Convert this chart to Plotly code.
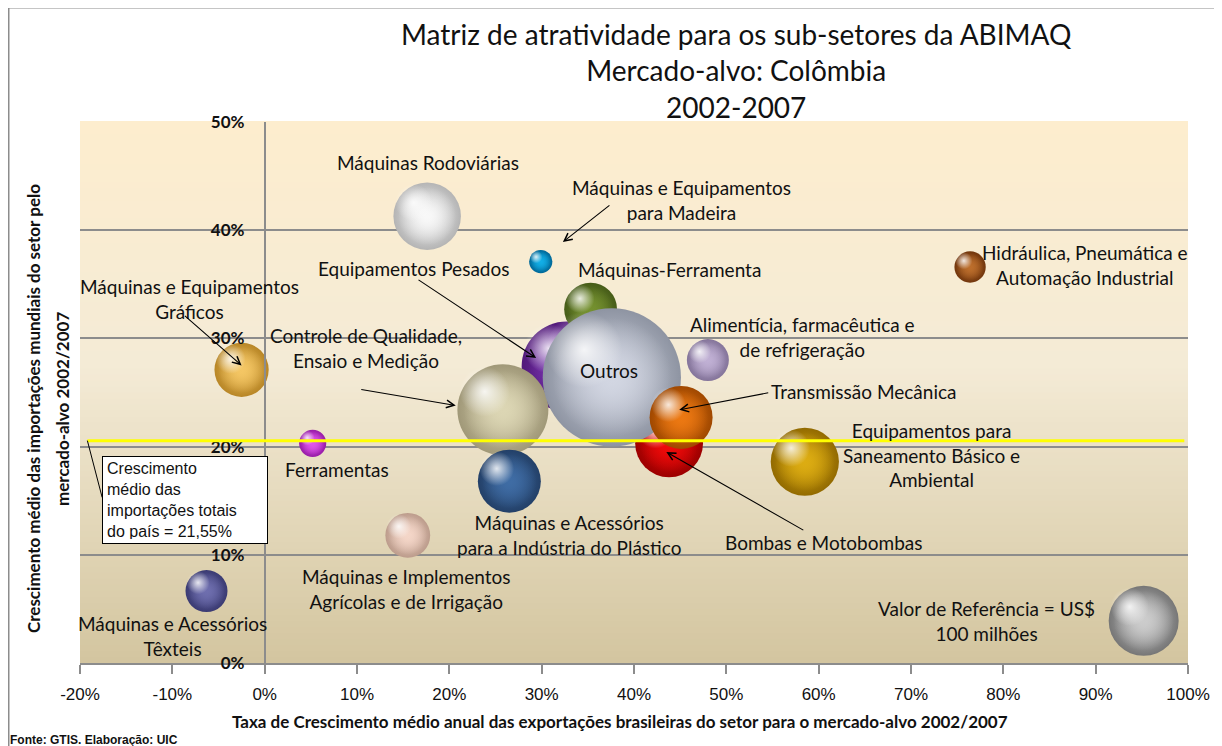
import plotly.graph_objects as go

# a página tem 8px de margem no body: o desenho é deslocado para coincidir
OFF = 8
W, H = 1214, 738
ML, MR, MT, MB = 72, 34, 114, 83
PW, PH = W - ML - MR, H - MT - MB
X_RANGE, Y_RANGE = (-20, 100), (0, 50)

# dados (ordem = ordem de desenho)
setores = [
    "Equipamentos Pesados", "Máquinas-Ferramenta", "Controle de Qualidade, Ensaio e Medição",
    "Máquinas e Acessórios para a Indústria do Plástico", "Bombas e Motobombas", "Outros",
    "Transmissão Mecânica", "Máquinas Rodoviárias", "Máquinas e Equipamentos para Madeira",
    "Alimentícia, farmacêutica e de refrigeração", "Equipamentos para Saneamento Básico e Ambiental",
    "Hidráulica, Pneumática e Automação Industrial", "Ferramentas", "Máquinas e Equipamentos Gráficos",
    "Máquinas e Implementos Agrícolas e de Irrigação", "Máquinas e Acessórios Têxteis",
    "Valor de Referência",
]
cresc_export = [32.7, 35.3, 25.8, 26.5, 43.8, 37.6, 45.1, 17.6, 29.9, 48.0, 58.5, 76.4, 5.2, -2.5, 15.5, -6.3, 95.2]
cresc_import = [27.4, 32.7, 23.4, 16.8, 20.3, 26.4, 22.7, 41.3, 37.1, 28.0, 18.6, 36.6, 20.3, 27.1, 11.8, 6.65, 3.9]
valor_usd_mi = [165, 57, 169, 81, 94, 390, 81, 93, 11, 36, 95, 20, 15, 60, 41, 36, 100]
media_import_total = 20.55

x_ticks = [-20, -10, 0, 10, 20, 30, 40, 50, 60, 70, 80, 90, 100]
y_ticks = [0, 10, 20, 30, 40, 50]

# estilo das esferas: cor principal e borda escura
cor_principal = [
    "#7c36b4", "#74902f", "#dcd6b4", "#3f6ca4", "#f00a0a", "#d2d6e2",
    "#ec7812", "#f8f8f8", "#12aee6", "#c0b0d4", "#dcac12",
    "#bc6e2c", "#e054ec", "#f4c664", "#f4d6c8", "#6e6eae", "#cccccc",
]
cor_borda = [
    "#52197a", "#465c18", "#a09878", "#234068", "#9c0000", "#8e94a2",
    "#a04800", "#b4b4b4", "#006898", "#84749a", "#926a00",
    "#72360c", "#981ca8", "#b88626", "#bc9c8c", "#3a3a72", "#767676",
]

rotulos = [
    ("Máquinas Rodoviárias", 17.7, 46.3),
    ("Máquinas e Equipamentos<br>para Madeira", 45.1, 42.8),
    ("Máquinas-Ferramenta", 43.8, 36.4),
    ("Equipamentos Pesados", 16.1, 36.5),
    ("Máquinas e Equipamentos<br>Gráficos", -8.1, 33.6),
    ("Controle de Qualidade,<br>Ensaio e Medição", 11.0, 29.1),
    ("Outros", 37.3, 27.0),
    ("Alimentícia, farmacêutica e<br>de refrigeração", 58.2, 30.1),
    ("Transmissão Mecânica", 64.9, 25.1),
    ("Equipamentos para<br>Saneamento Básico e<br>Ambiental", 72.2, 19.2),
    ("Hidráulica, Pneumática e<br>Automação Industrial", 88.8, 36.8),
    ("Ferramentas", 7.8, 17.9),
    ("Máquinas e Acessórios<br>para a Indústria do Plástico", 33.0, 11.8),
    ("Bombas e Motobombas", 60.5, 11.1),
    ("Máquinas e Implementos<br>Agrícolas e de Irrigação", 15.4, 6.8),
    ("Máquinas e Acessórios<br>Têxteis", -10.0, 2.5),
    ("Valor de Referência = US$<br>100 milhões", 78.2, 3.9),
]

# setas: (cauda x, cauda y, ponta x, ponta y)
setas = [
    (37.5, 42.4, 32.3, 38.9),
    (16.5, 35.5, 29.4, 28.2),
    (10.3, 25.3, 20.7, 23.8),
    (-8.8, 32.2, -2.5, 27.5),
    (54.7, 25.0, 44.9, 23.4),
    (58.5, 12.2, 43.5, 19.5),
]


def px_x(p):
    return (p - OFF - ML) / PW


def px_y(p):
    return (H - MB - (p - OFF)) / PH


def rgba(hexcor, a):
    h = hexcor.lstrip("#")
    return "rgba(%d,%d,%d,%s)" % (int(h[0:2], 16), int(h[2:4], 16), int(h[4:6], 16), a)


def mix(c1, c2, t):
    return "rgb(%d,%d,%d)" % tuple(round(a + (b - a) * t) for a, b in zip(c1, c2))


def fundo_gradiente(n=90):
    topo, meio, base = (253, 237, 206), (244, 235, 214), (211, 197, 159)
    shapes = []
    for i in range(n):
        y0, y1 = i / n, (i + 1) / n
        yc = (y0 + y1) / 2
        cor = mix(base, meio, yc / 0.55) if yc < 0.55 else mix(meio, topo, (yc - 0.55) / 0.45)
        shapes.append(dict(type="rect", xref="paper", yref="paper", x0=0, x1=1, y0=y0, y1=y1 + 0.002,
                           fillcolor=cor, line_width=0, layer="below"))
    return shapes


def esfera(nome, x, y, valor, cor, borda):
    # diâmetro proporcional à raiz do valor (US$ 100 mi -> 70 px)
    d = (valor / 100) ** 0.5 * 70
    dx = -0.2 * d * (X_RANGE[1] - X_RANGE[0]) / PW
    dy = 0.2 * d * (Y_RANGE[1] - Y_RANGE[0]) / PH
    return go.Scatter(
        x=[x, x, x + dx], y=[y, y, y + dy], mode="markers",
        marker=dict(
            size=[d, d * 0.86, d * 0.55], sizemode="diameter", opacity=1,
            color=[borda, rgba(cor, 0), "rgba(255,255,255,0)"],
            gradient=dict(type="radial", color=[cor, cor, "rgba(255,255,255,0.85)"]),
            line=dict(width=0),
        ),
        name=nome,
        hovertemplate=f"{nome}<br>%{{x:.1f}}% / %{{y:.1f}}%<extra></extra>",
        showlegend=False,
    )


fig = go.Figure()
for i in range(len(setores)):
    fig.add_trace(esfera(setores[i], cresc_export[i], cresc_import[i], valor_usd_mi[i],
                         cor_principal[i], cor_borda[i]))

lbl_font = dict(family="Lato", size=19, color="#111111")
annotations = []
for txt, x, y in rotulos:
    annotations.append(dict(x=x, y=y, xref="x", yref="y", text=txt, showarrow=False,
                            font=lbl_font, align="center"))
for tx, ty, hx, hy in setas:
    annotations.append(dict(x=hx, y=hy, ax=tx, ay=ty, xref="x", yref="y", axref="x", ayref="y",
                            text="", showarrow=True, arrowhead=5, arrowsize=1.4, arrowwidth=1.1,
                            arrowcolor="black", standoff=0, startstandoff=0))

tit_eixo = dict(family="Lato", size=17, color="#111111", weight="bold")
annotations += [
    dict(x=px_x(736), y=px_y(71), xref="paper", yref="paper", showarrow=False,
         xanchor="center", yanchor="middle",
         text="Matriz de atratividade para os sub-setores da ABIMAQ<br>Mercado-alvo: Colômbia<br>2002-2007",
         font=dict(family="Lato", size=28, color="#111111"), align="center"),
    dict(x=px_x(33), y=px_y(409), xref="paper", yref="paper", showarrow=False, textangle=-90,
         xanchor="center", yanchor="middle",
         text="Crescimento médio das importações mundiais do setor pelo", font=tit_eixo),
    dict(x=px_x(62), y=px_y(409), xref="paper", yref="paper", showarrow=False, textangle=-90,
         xanchor="center", yanchor="middle",
         text="mercado-alvo 2002/2007", font=tit_eixo),
    dict(x=px_x(620), y=px_y(721), xref="paper", yref="paper", showarrow=False,
         xanchor="center", yanchor="middle",
         text="Taxa de Crescimento médio anual das exportações brasileiras do setor para o mercado-alvo 2002/2007",
         font=tit_eixo),
    dict(x=px_x(8), y=px_y(740), xref="paper", yref="paper", showarrow=False,
         xanchor="left", yanchor="middle",
         text="Fonte: GTIS. Elaboração: UIC",
         font=dict(family="Liberation Sans", size=12, color="#111111", weight="bold")),
    dict(x=-17.6, y=19.1, xref="x", yref="y", xanchor="left", yanchor="top", showarrow=False,
         text="Crescimento<br>médio das<br>importações totais<br>do país = 21,55%",
         align="left", width=156, height=78, valign="middle",
         font=dict(family="Liberation Sans", size=16, color="#111111"),
         bgcolor="white", bordercolor="black", borderwidth=1, borderpad=4),
]

shapes = fundo_gradiente()
shapes += [
    dict(type="line", xref="x", yref="y", x0=-19.2, x1=99.6, y0=media_import_total, y1=media_import_total,
         line=dict(color="#ffff00", width=3), layer="above"),
    dict(type="line", xref="x", yref="y", x0=-19.2, x1=-17.6, y0=media_import_total, y1=15.3,
         line=dict(color="black", width=1), layer="above"),
    dict(type="rect", xref="paper", yref="paper", x0=px_x(8.75), x1=px_x(1240), y0=px_y(7.75), y1=px_y(760),
         line=dict(color="#8c8c8c", width=1.5), fillcolor="rgba(0,0,0,0)", layer="below"),
]

fig.update_layout(
    width=W, height=H,
    margin=dict(l=ML, r=MR, t=MT, b=MB),
    paper_bgcolor="white", plot_bgcolor="rgba(0,0,0,0)",
    annotations=annotations, shapes=shapes,
    xaxis=dict(
        range=list(X_RANGE), tickvals=x_ticks, ticktext=[f"{v}%" for v in x_ticks],
        showgrid=False, zeroline=False,
        showline=True, linecolor="#8c8c8c", linewidth=1.5,
        ticks="outside", ticklen=9, tickwidth=1.5, tickcolor="#8c8c8c", ticklabelstandoff=6,
        tickfont=dict(family="Liberation Sans", size=17, color="#111111"),
    ),
    yaxis=dict(
        range=list(Y_RANGE), tickvals=y_ticks, ticktext=[f"{v}%" for v in y_ticks],
        anchor="free", position=1 / 6,
        showgrid=True, gridcolor="#8c8c8c", gridwidth=1.5, zeroline=False,
        showline=True, linecolor="#8c8c8c", linewidth=1.5, ticks="", ticklabelstandoff=16,
        tickfont=dict(family="Lato", size=17, color="#111111", weight="bold"),
    ),
    hovermode="closest",
)

fig.write_html("out.html")
